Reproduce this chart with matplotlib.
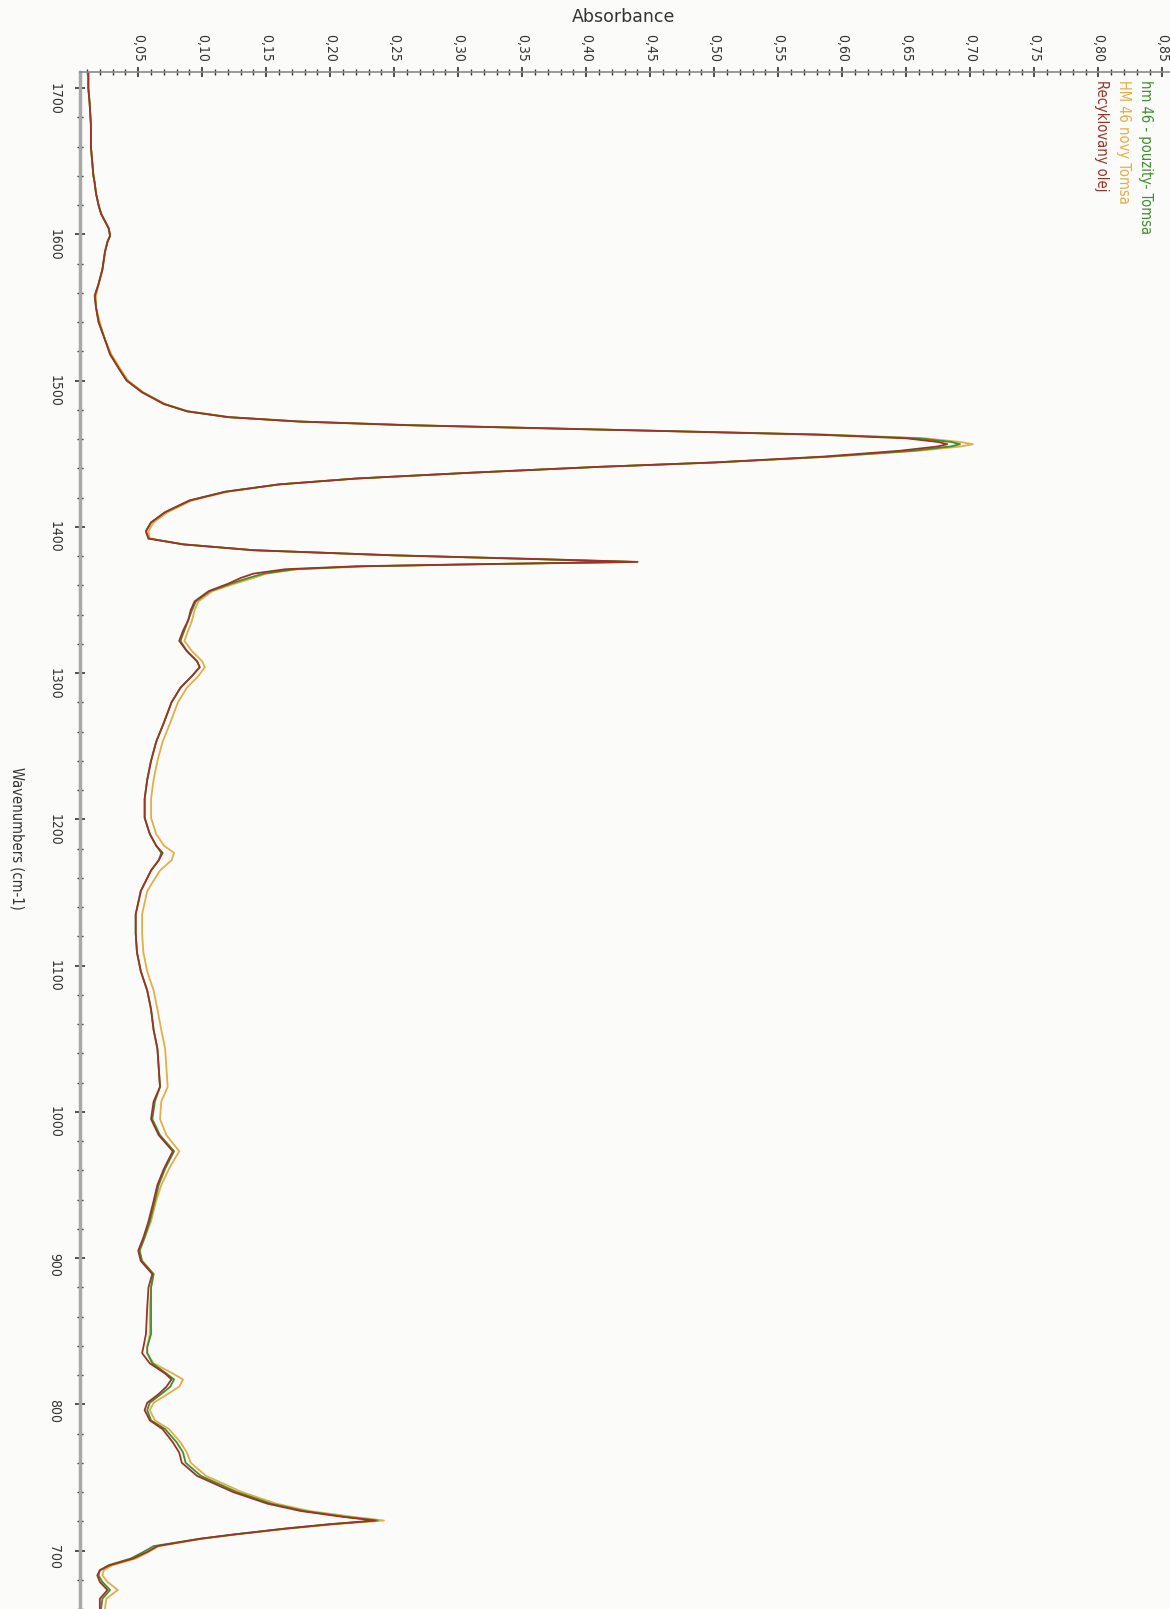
import matplotlib
matplotlib.use('Agg')
import matplotlib.pyplot as plt
from matplotlib.ticker import MultipleLocator, FuncFormatter

# wavenumber grid (cm-1) shared by the three spectra
wavenumber = [1711, 1700, 1690, 1675, 1660, 1650, 1640, 1635, 1628, 1620,
              1614, 1609, 1604, 1599, 1595, 1588, 1576, 1566, 1558, 1550,
              1540, 1528, 1518, 1508, 1500, 1492, 1484, 1479, 1475, 1472,
              1469.5, 1467.5, 1465.5, 1463, 1460.5, 1458, 1456.5, 1455, 1452, 1448,
              1444, 1441, 1437, 1433, 1429, 1424, 1418, 1410, 1403, 1397,
              1392, 1388, 1384, 1380.5, 1378, 1376, 1374.5, 1373, 1371, 1368,
              1365, 1361, 1356, 1349, 1343, 1336, 1329, 1322, 1315, 1308,
              1304, 1298, 1290, 1280, 1266, 1253, 1240, 1227, 1214, 1201,
              1190, 1182, 1177, 1172, 1165, 1151, 1135, 1122, 1109, 1096,
              1083, 1070, 1056, 1043, 1030, 1017, 1007, 995, 984, 973,
              961, 950, 939, 925, 914, 905, 898, 892, 889, 880,
              866, 848, 839, 835, 828, 821, 817, 812, 807, 801,
              796, 789, 783, 774, 767, 760, 751, 740, 732, 727,
              723, 720.5, 718, 715, 711, 708, 703, 699, 694.5, 690,
              686.5, 683, 678.5, 673, 667, 660]

abs_recyklovany = [.011, .011, .012, .013, .013, .014, .015, .016, .017, .019,
                   .021, .024, .027, .028, .026, .024, .022, .019, .016, .017,
                   .019, .024, .028, .035, .041, .053, .070, .088, .120, .175,
                   .260, .360, .460, .580, .650, .675, .682, .675, .645, .585,
                   .500, .410, .310, .220, .160, .118, .090, .071, .060, .056,
                   .058, .085, .140, .250, .360, .440, .320, .220, .165, .140,
                   .130, .120, .105, .094, .091, .089, .085, .082, .088, .096,
                   .098, .092, .083, .076, .070, .064, .060, .057, .055, .055,
                   .059, .064, .069, .066, .060, .052, .048, .048, .049, .052,
                   .057, .060, .062, .065, .066, .067, .062, .060, .066, .077,
                   .070, .065, .062, .058, .054, .050, .052, .058, .061, .058,
                   .057, .056, .054, .053, .059, .071, .076, .072, .066, .057,
                   .055, .059, .069, .077, .082, .084, .096, .124, .151, .177,
                   .210, .235, .200, .165, .125, .098, .065, .057, .046, .028,
                   .020, .018, .020, .026, .020, .020]

abs_pouzity = [.011, .011, .012, .013, .013, .014, .015, .016, .017, .019,
               .021, .024, .027, .028, .026, .024, .022, .019, .016, .017,
               .019, .024, .028, .035, .041, .053, .070, .088, .120, .175,
               .260, .360, .462, .585, .660, .685, .692, .685, .655, .590,
               .500, .410, .310, .220, .160, .118, .090, .071, .060, .056,
               .058, .085, .140, .248, .355, .435, .320, .225, .172, .148,
               .136, .122, .106, .095, .092, .089, .086, .083, .088, .096,
               .098, .092, .083, .076, .070, .064, .060, .057, .055, .055,
               .059, .064, .068, .066, .060, .052, .048, .048, .049, .052,
               .057, .060, .062, .065, .066, .067, .063, .061, .067, .078,
               .071, .066, .063, .059, .055, .051, .053, .059, .062, .060,
               .060, .060, .057, .057, .061, .072, .078, .075, .068, .059,
               .057, .060, .071, .080, .085, .087, .099, .127, .154, .180,
               .212, .237, .200, .165, .125, .098, .062, .054, .044, .027,
               .020, .019, .022, .028, .022, .021]

abs_novy = [.011, .011, .012, .013, .013, .014, .015, .016, .017, .019,
            .021, .024, .027, .028, .026, .024, .022, .019, .017, .017,
            .020, .024, .029, .036, .042, .054, .071, .089, .122, .178,
            .265, .365, .465, .590, .665, .692, .702, .693, .660, .592,
            .502, .410, .310, .220, .160, .120, .092, .073, .062, .058,
            .059, .086, .140, .250, .360, .440, .325, .228, .175, .150,
            .140, .125, .108, .097, .094, .092, .089, .086, .092, .100,
            .102, .097, .088, .081, .075, .069, .065, .062, .060, .060,
            .064, .070, .078, .076, .067, .057, .053, .053, .054, .057,
            .062, .065, .068, .071, .072, .073, .068, .067, .072, .082,
            .074, .068, .064, .060, .055, .051, .053, .059, .062, .060,
            .059, .059, .057, .057, .062, .077, .085, .082, .073, .062,
            .059, .063, .074, .083, .088, .091, .103, .131, .158, .184,
            .218, .242, .205, .168, .127, .100, .066, .058, .048, .030,
            .023, .022, .026, .034, .025, .024]

series = [
    ('hm 46 - pouzity- Tomsa', abs_pouzity, '#3f8f2c'),
    ('HM 46 novy Tomsa', abs_novy, '#e3ad48'),
    ('Recyklovany olej', abs_recyklovany, '#9c3325'),
]

txt = dict(family='DejaVu Sans', stretch='condensed')

fig = plt.figure(figsize=(11.7, 16.09), dpi=100, facecolor='#fbfbfa')
ax = fig.add_axes([80 / 1170, 0, 1 - 80 / 1170, 1 - 72 / 1609])
ax.set_facecolor('#fbfbfa')

# novy first, then pouzity, recyklovany on top
for idx in [1, 0, 2]:
    name, vals, col = series[idx]
    ax.plot(vals, wavenumber, color=col, lw=1.3)

ax.set_xlim(0.0045, 0.856)
ax.set_ylim(660, 1711)

ax.xaxis.tick_top()
ax.set_xticks([0.05 * i for i in range(1, 18)])
ax.xaxis.set_minor_locator(MultipleLocator(0.01))
ax.xaxis.set_major_formatter(FuncFormatter(lambda v, p: f'{v:.2f}'.replace('.', ',')))
ax.yaxis.set_major_locator(MultipleLocator(100))
ax.yaxis.set_minor_locator(MultipleLocator(20))

ax.tick_params(axis='x', which='both', direction='inout', colors='#333333',
               labelrotation=-90, labelsize=10, pad=4)
ax.tick_params(axis='y', which='both', direction='inout', colors='#333333',
               labelrotation=-90, labelsize=10, pad=10)
ax.tick_params(which='major', length=7, width=1.2)
ax.tick_params(which='minor', length=4, width=1.0)
for lab in ax.get_xticklabels() + ax.get_yticklabels():
    lab.set_fontfamily('DejaVu Sans')
    lab.set_fontstretch('condensed')

for side in ['right', 'bottom']:
    ax.spines[side].set_visible(False)
ax.spines['left'].set_color('#a8a8a8')
ax.spines['left'].set_linewidth(2.5)
ax.spines['top'].set_color('#8a8a8a')
ax.spines['top'].set_linewidth(1.2)

fig.text(624 / 1170, 1 - 17 / 1609, 'Absorbance', ha='center', va='center',
         fontsize=12.5, color='#333333')
fig.text(17 / 1170, 1 - 838 / 1609, 'Wavenumbers (cm-1)', rotation=-90,
         ha='center', va='center', fontsize=10.5, color='#333333', **txt)

# legend texts, written downwards along the right edge
leg_x = [1145, 1123, 1102]
for (name, vals, col), x in zip(series, leg_x):
    fig.text(x / 1170, 1 - 80 / 1609, name, rotation=-90, ha='center', va='top',
             fontsize=10.5, color=col, **txt)

fig.savefig('out.png', dpi=100, facecolor=fig.get_facecolor())
